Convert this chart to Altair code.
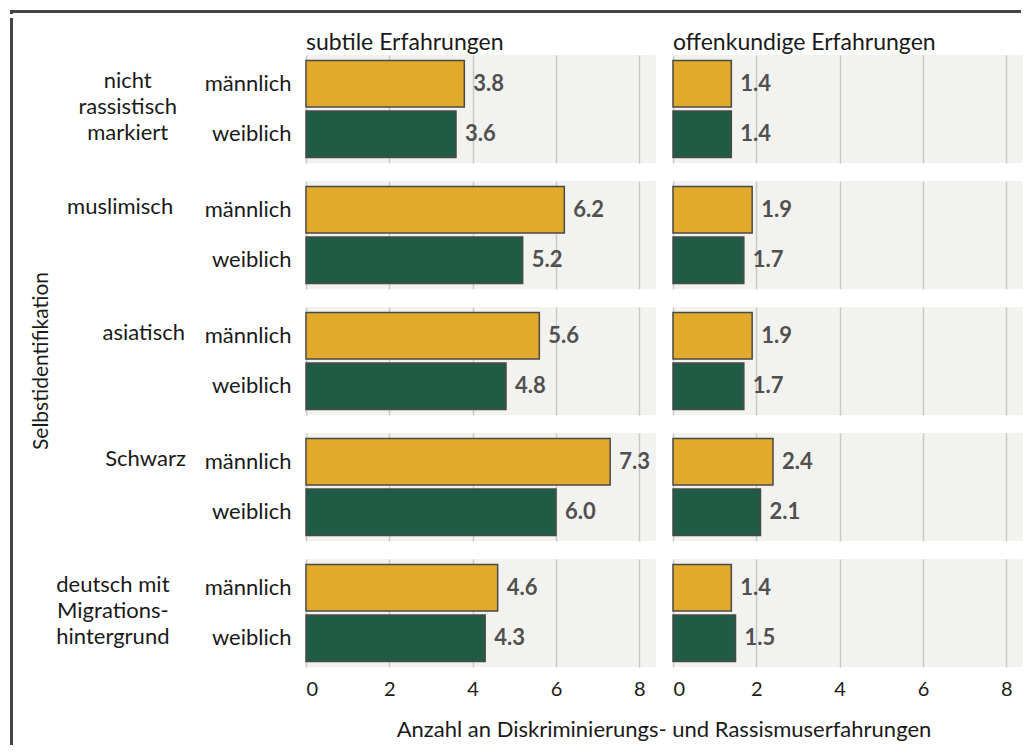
import altair as alt
import pandas as pd

groups = ["nicht|rassistisch|markiert", "muslimisch", "asiatisch", "Schwarz",
          "deutsch mit|Migrations-|hintergrund"]
genders = ["männlich", "weiblich"]
types = ["subtile Erfahrungen", "offenkundige Erfahrungen"]

subtile_m = [3.8, 6.2, 5.6, 7.3, 4.6]
subtile_w = [3.6, 5.2, 4.8, 6.0, 4.3]
offen_m = [1.4, 1.9, 1.9, 2.4, 1.4]
offen_w = [1.4, 1.7, 1.7, 2.1, 1.5]

rows = []
for i, g in enumerate(groups):
    rows.append({"gruppe": g, "geschlecht": "männlich", "typ": types[0], "wert": subtile_m[i]})
    rows.append({"gruppe": g, "geschlecht": "weiblich", "typ": types[0], "wert": subtile_w[i]})
    rows.append({"gruppe": g, "geschlecht": "männlich", "typ": types[1], "wert": offen_m[i]})
    rows.append({"gruppe": g, "geschlecht": "weiblich", "typ": types[1], "wert": offen_w[i]})
df = pd.DataFrame(rows)

FONT = "Lato"
TXT = "#1a1a1a"

x_enc = alt.X("wert:Q", scale=alt.Scale(domain=[0, 8.4], nice=False),
              axis=alt.Axis(values=[0, 2, 4, 6, 8], title=None, domain=False, ticks=False,
                            grid=True, gridColor="#c8c8c8", gridWidth=1.5,
                            labelFontSize=20, labelColor=TXT, labelPadding=12, labelFont=FONT))
y_enc = alt.Y("geschlecht:N", sort=genders,
              scale=alt.Scale(paddingInner=0.08, paddingOuter=0.11),
              axis=alt.Axis(title=None, domain=False, ticks=False, labelFontSize=22,
                            labelColor=TXT, labelPadding=14, labelFont=FONT))

bars = alt.Chart().mark_bar(stroke="#4a4a4a", strokeWidth=1.5).encode(
    x=x_enc, y=y_enc,
    color=alt.Color("geschlecht:N", sort=genders,
                    scale=alt.Scale(domain=genders, range=["#e1aa2b", "#1f5b45"]),
                    legend=None),
)
labels = alt.Chart().mark_text(align="left", baseline="middle", dx=9, fontSize=22,
                               fontWeight="bold", color="#505050", font=FONT).encode(
    x="wert:Q", y=alt.Y("geschlecht:N", sort=genders),
    text=alt.Text("wert:Q", format=".1f"),
)

# row labels anchored at the top of each row; leading non-breaking-space lines
# push each text block down to the middle of its row
NB = "\u00a0"
row_label_expr = (f"split((indexof(datum.value, '|') >= 0 ? '{NB}|' : '{NB}|{NB}|')"
                  " + datum.value, '|')")

facet = alt.layer(bars, labels, data=df).properties(width=350, height=108).facet(
    row=alt.Row("gruppe:N", sort=groups,
                header=alt.Header(labelAngle=0, labelAlign="center", labelOrient="left",
                                  labelAnchor="end", labelBaseline="middle",
                                  labelExpr=row_label_expr, labelLineHeight=26,
                                  labelFontSize=22, labelColor=TXT, labelFont=FONT,
                                  labelPadding=-22,
                                  title="Selbstidentifikation", titleOrient="left",
                                  titleAngle=-90, titleFontSize=21, titleFontWeight="normal",
                                  titleColor=TXT, titleFont=FONT, titlePadding=-27)),
    column=alt.Column("typ:N", sort=types,
                      header=alt.Header(labelOrient="top", labelAnchor="start", labelAlign="left",
                                        labelFontSize=23, labelColor=TXT, labelFont=FONT,
                                        labelPadding=0,
                                        title="Anzahl an Diskriminierungs- und Rassismuserfahrungen",
                                        titleOrient="bottom", titleFontSize=22,
                                        titleFontWeight="normal", titleColor=TXT, titleFont=FONT,
                                        titlePadding=11)),
    spacing={"row": 18, "column": 16},
)

dummy = pd.DataFrame({"a": [0]})
top_h = 5
top_line = alt.Chart(dummy).mark_rule(color="#444444", strokeWidth=3).encode(
    x=alt.value(1), x2=alt.value(1012), y=alt.value(2.5)
)
top_vert = alt.Chart(dummy).mark_rule(color="#444444", strokeWidth=3).encode(
    x=alt.value(2.5), y=alt.value(1), y2=alt.value(top_h)
)
top_rule = alt.layer(top_line, top_vert).properties(
    width=1012, height=top_h, view=alt.ViewBackground(fill="white", stroke=None))
left_rule = alt.Chart(dummy).mark_rule(color="#444444", strokeWidth=3).encode(
    x=alt.value(2.5), y=alt.value(-37), y2=alt.value(690)
).properties(width=5, height=690, view=alt.ViewBackground(fill="white", stroke=None))

chart = alt.vconcat(
    top_rule,
    alt.hconcat(left_rule, facet, spacing=17),
    spacing=0,
).properties(padding=0, background="white").configure_view(
    fill="#f2f3ef", stroke=None
)

chart.save("out.html", embed_options={"renderer": "svg", "actions": False})
